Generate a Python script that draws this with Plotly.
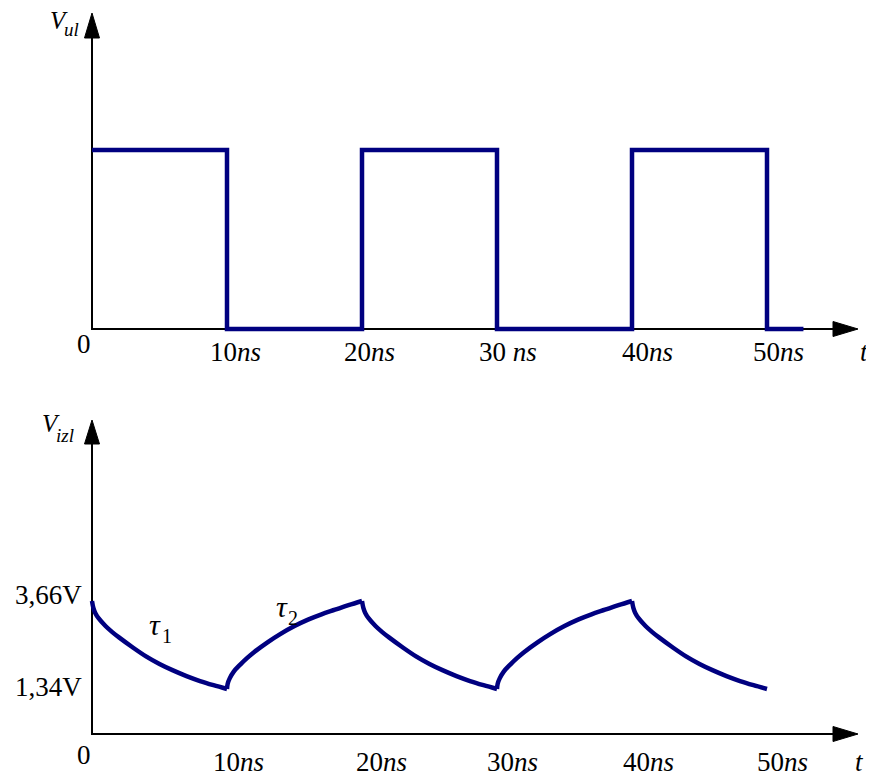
import plotly.graph_objects as go

# page body has an 8px margin, so the figure is drawn 8px in from the corner
PAGE_W, PAGE_H = 874, 776
OFF = 8
W, H = PAGE_W - OFF, PAGE_H - OFF
NAVY = "#000080"
FONT = "Liberation Serif"

# ---------------- data ----------------
# top: input square wave V_ul (normalised level)
t_square = [0, 10, 10, 20, 20, 30, 30, 40, 40, 50, 50, 52.7]
v_square = [1, 1, 0, 0, 1, 1, 0, 0, 1, 1, 0, 0]

# bottom: output V_izl, read segment by segment (ns, V)
t_fall1 = [0, 0.1, 0.25, 0.5, 1, 1.5, 2, 3, 4, 5, 6, 7, 8, 9, 10]
v_fall1 = [3.66, 3.48, 3.34, 3.20, 3.00, 2.84, 2.70, 2.44, 2.20, 2.00, 1.83, 1.68, 1.55, 1.44, 1.34]

t_rise1 = [10, 10.05, 10.2, 10.5, 11, 11.5, 12, 13, 14, 15, 16, 17, 18, 19, 20]
v_rise1 = [1.34, 1.48, 1.62, 1.80, 1.99, 2.16, 2.31, 2.57, 2.80, 3.00, 3.17, 3.31, 3.43, 3.55, 3.66]

t_fall2 = [20, 20.1, 20.25, 20.5, 21, 21.5, 22, 23, 24, 25, 26, 27, 28, 29, 30]
v_fall2 = [3.66, 3.48, 3.34, 3.20, 3.00, 2.84, 2.70, 2.44, 2.20, 2.00, 1.83, 1.68, 1.55, 1.44, 1.34]

t_rise2 = [30, 30.05, 30.2, 30.5, 31, 31.5, 32, 33, 34, 35, 36, 37, 38, 39, 40]
v_rise2 = [1.34, 1.48, 1.62, 1.80, 1.99, 2.16, 2.31, 2.57, 2.80, 3.00, 3.17, 3.31, 3.43, 3.55, 3.66]

t_fall3 = [40, 40.1, 40.25, 40.5, 41, 41.5, 42, 43, 44, 45, 46, 47, 48, 49, 50]
v_fall3 = [3.66, 3.48, 3.34, 3.20, 3.00, 2.84, 2.70, 2.44, 2.20, 2.00, 1.83, 1.68, 1.55, 1.44, 1.34]

tick_vals = [0, 10, 20, 30, 40, 50]
tick_text_top = ["0", "10<i>ns</i>", "20<i>ns</i>", "30 <i>ns</i>", "40<i>ns</i>", "50<i>ns</i>"]
tick_text_bottom = ["0", "10<i>ns</i>", "20<i>ns</i>", "30<i>ns</i>", "40<i>ns</i>", "50<i>ns</i>"]
level_vals = [3.66, 1.34]
level_text = ["3,66V", "1,34V"]

# ---------------- styling / layout helpers ----------------
shift_top = [-8, 8, 7, 11, 15, 11]
shift_bottom = [-8, 11, 19, 15, 16, 15]
top_label_top = [327, 335, 335, 335, 335, 335]      # page y of label box top
bottom_label_top = [738, 745, 745, 745, 745, 745]
level_yshift = [23, 19]


def px(p):
    """page pixel x -> paper fraction"""
    return (p - OFF) / W


def py(p):
    """page pixel y -> paper fraction"""
    return 1 - (p - OFF) / H


fig = go.Figure()

fig.add_trace(go.Scatter(x=t_square, y=v_square, mode="lines", yaxis="y",
                         line=dict(color=NAVY, width=4.5), hoverinfo="skip"))

segments = [(t_fall1, v_fall1), (t_rise1, v_rise1), (t_fall2, v_fall2),
            (t_rise2, v_rise2), (t_fall3, v_fall3)]
for ts, vs in segments:
    fig.add_trace(go.Scatter(x=ts, y=vs, mode="lines", yaxis="y2",
                             line=dict(color=NAVY, width=4.5, shape="spline", smoothing=1.0),
                             hoverinfo="skip"))

shapes = []
axis_line = dict(color="black", width=2)
# top axes
shapes.append(dict(type="line", xref="paper", yref="paper", x0=px(92), x1=px(92),
                   y0=py(330), y1=py(36), line=axis_line, layer="below"))
shapes.append(dict(type="line", xref="paper", yref="paper", x0=px(91), x1=px(834),
                   y0=py(329), y1=py(329), line=axis_line, layer="below"))
# bottom axes
shapes.append(dict(type="line", xref="paper", yref="paper", x0=px(92), x1=px(92),
                   y0=py(735), y1=py(442), line=axis_line, layer="below"))
shapes.append(dict(type="line", xref="paper", yref="paper", x0=px(91), x1=px(834),
                   y0=py(734), y1=py(734), line=axis_line, layer="below"))


def tri(pts):
    d = "M " + " L ".join(f"{px(a)},{py(b)}" for a, b in pts) + " Z"
    return dict(type="path", xref="paper", yref="paper", path=d,
                fillcolor="black", line=dict(color="black", width=1))


shapes.append(tri([(92, 13), (84.5, 38), (99.5, 38)]))
shapes.append(tri([(858, 329), (833, 321.5), (833, 336.5)]))
shapes.append(tri([(92, 420), (84.5, 444), (99.5, 444)]))
shapes.append(tri([(858, 734), (833, 726.5), (833, 741.5)]))

ann = []
tick_font = dict(family=FONT, size=27, color="black")
for v, txt, s, yt in zip(tick_vals, tick_text_top, shift_top, top_label_top):
    ann.append(dict(x=v, xref="x", y=py(yt), yref="paper", text=txt, showarrow=False,
                    xanchor="center", yanchor="top", xshift=s, font=tick_font))
for v, txt, s, yt in zip(tick_vals, tick_text_bottom, shift_bottom, bottom_label_top):
    ann.append(dict(x=v, xref="x", y=py(yt), yref="paper", text=txt, showarrow=False,
                    xanchor="center", yanchor="top", xshift=s, font=tick_font))
for v, txt, ys in zip(level_vals, level_text, level_yshift):
    ann.append(dict(x=px(84), xref="paper", y=v, yref="y2", text=txt, showarrow=False,
                    xanchor="right", yanchor="top", yshift=ys, font=tick_font))

# axis names
ann.append(dict(x=px(864), xref="paper", y=py(335), yref="paper", text="<i>t</i>",
                showarrow=False, xanchor="center", yanchor="top", font=tick_font))
ann.append(dict(x=px(859), xref="paper", y=py(745), yref="paper", text="<i>t</i>",
                showarrow=False, xanchor="center", yanchor="top", font=tick_font))

ann.append(dict(x=px(48), xref="paper", y=py(36), yref="paper", text="<i>V</i>",
                showarrow=False, xanchor="left", yanchor="bottom",
                font=dict(family=FONT, size=25, color="black")))
ann.append(dict(x=px(62), xref="paper", y=py(42), yref="paper", text="<i>ul</i>",
                showarrow=False, xanchor="left", yanchor="bottom",
                font=dict(family=FONT, size=19, color="black")))
ann.append(dict(x=px(40), xref="paper", y=py(439), yref="paper", text="<i>V</i>",
                showarrow=False, xanchor="left", yanchor="bottom",
                font=dict(family=FONT, size=25, color="black")))
ann.append(dict(x=px(54), xref="paper", y=py(448), yref="paper", text="<i>izl</i>",
                showarrow=False, xanchor="left", yanchor="bottom",
                font=dict(family=FONT, size=19, color="black")))

# tau labels (symbol and subscript as separate texts)
tau_font = dict(family=FONT, size=30, color="black")
sub_font = dict(family=FONT, size=20, color="black")
ann.append(dict(x=px(148), xref="paper", y=py(642), yref="paper", text="<i>τ</i>",
                showarrow=False, xanchor="left", yanchor="bottom", borderpad=0, font=tau_font))
ann.append(dict(x=px(161), xref="paper", y=py(648), yref="paper", text="1",
                showarrow=False, xanchor="left", yanchor="bottom", borderpad=0, font=sub_font))
ann.append(dict(x=px(275), xref="paper", y=py(624), yref="paper", text="<i>τ</i>",
                showarrow=False, xanchor="left", yanchor="bottom", borderpad=0, font=tau_font))
ann.append(dict(x=px(287), xref="paper", y=py(630), yref="paper", text="2",
                showarrow=False, xanchor="left", yanchor="bottom", borderpad=0, font=sub_font))

# axis ranges chosen so that 0 ns sits at page x=92 with 13.5 px per ns,
# V_ul levels 0/1 at page y=329/150, V_izl levels 1.34/3.66 at page y=689/601
x_lo = -(92 - OFF) / 13.5
x_hi = x_lo + W / 13.5
top_ppu = 329 - 150
top_lo = -(1 - (329 - OFF) / H) * H / top_ppu
top_hi = top_lo + H / top_ppu
bot_ppu = (689 - 601) / (3.66 - 1.34)
bot_lo = 1.34 - (1 - (689 - OFF) / H) * H / bot_ppu
bot_hi = bot_lo + H / bot_ppu

fig.update_layout(
    width=W, height=H,
    margin=dict(l=0, r=0, t=0, b=0),
    paper_bgcolor="white", plot_bgcolor="white",
    showlegend=False,
    xaxis=dict(range=[x_lo, x_hi], visible=False, fixedrange=True),
    yaxis=dict(range=[top_lo, top_hi], visible=False, fixedrange=True),
    yaxis2=dict(range=[bot_lo, bot_hi], visible=False, overlaying="y", fixedrange=True),
    shapes=shapes,
    annotations=ann,
)

fig.write_html("out.html")
